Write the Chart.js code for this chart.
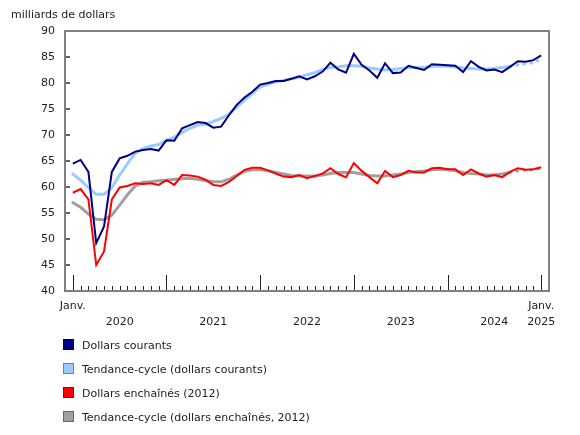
<!DOCTYPE html>
<html lang="fr">
<head>
<meta charset="utf-8">
<script src="https://cdn.jsdelivr.net/npm/chart.js@4/dist/chart.umd.min.js"></script>
<style>
  body { margin: 0; background: #fff; font-family: "DejaVu Sans", Verdana, sans-serif; }
  #zone { position: relative; width: 580px; height: 435px; }
  #legende { position: absolute; left: 63px; top: 339px; font-size: 11px; color: #222; }
  .item { height: 24px; display: flex; align-items: flex-start; }
  .boite { width: 11px; height: 11px; margin-right: 8px; box-sizing: border-box; border: 1px solid rgba(0,0,0,0.35); }
</style>
</head>
<body>
<div id="zone">
  <canvas id="grafico" width="580" height="435"></canvas>
  <div id="legende"></div>
</div>
<script>
// Mois de janvier 2020 à janvier 2025
const annees = ['2020', '2021', '2022', '2023', '2024', '2025'];
const mois = [];
for (let i = 0; i <= 60; i++) mois.push(i);

const dollarsCourants = [
  64.5, 65.2, 62.9, 49.2, 52.4, 62.9, 65.5, 66.0, 66.8, 67.1, 67.3, 67.0,
  69.0, 68.9, 71.3, 71.9, 72.5, 72.3, 71.4, 71.6, 73.8, 75.8, 77.2, 78.3,
  79.7, 80.0, 80.4, 80.4, 80.8, 81.3, 80.7, 81.3, 82.2, 83.9, 82.6, 82.0,
  85.6, 83.5, 82.4, 81.0, 83.8, 81.9, 82.0, 83.3, 82.9, 82.5,
  83.6, 83.5, 83.4, 83.3, 82.1, 84.2, 83.1, 82.4, 82.6, 82.1, 83.1, 84.2,
  84.1, 84.4, 85.3
];
const tendanceCourants = [
  62.5, 61.3, 59.9, 58.6, 58.6, 59.9, 62.3, 64.5, 66.5, 67.4, 67.9, 68.2,
  68.9, 69.6, 70.5, 71.3, 71.9, 72.1, 72.6, 73.2, 74.0, 75.4, 76.7, 78.0,
  79.2, 79.8, 80.2, 80.5, 80.8, 81.1, 81.6, 82.0, 82.6, 83.0, 83.1, 83.3,
  83.3, 83.2, 82.9, 82.7, 82.5, 82.6, 82.8, 83.0, 83.0, 83.0,
  83.2, 83.2, 83.2, 83.1, 82.9, 82.8, 82.7, 82.7, 82.8, 83.0, 83.2, 83.5,
  83.7, 83.9, 84.6
];
const dollarsEnchaines = [
  58.9, 59.6, 57.6, 45.0, 47.6, 57.6, 59.9, 60.2, 60.7, 60.6, 60.7, 60.4,
  61.3, 60.4, 62.3, 62.2, 62.0, 61.4, 60.4, 60.2, 61.0, 62.1, 63.3, 63.7,
  63.7, 63.2, 62.6, 62.0, 61.9, 62.3, 61.7, 62.1, 62.6, 63.6, 62.5, 61.9,
  64.6, 63.1, 61.9, 60.7, 63.1, 61.9, 62.3, 63.1, 62.8, 62.8,
  63.6, 63.7, 63.4, 63.4, 62.3, 63.4, 62.6, 62.0, 62.3, 61.9, 62.9, 63.6,
  63.3, 63.4, 63.8
];
const tendanceEnchaines = [
  57.0, 56.1, 54.8, 53.8, 53.7, 54.6, 56.5, 58.5, 60.2, 60.9, 61.0, 61.2,
  61.3, 61.5, 61.6, 61.7, 61.5, 61.2, 61.0, 61.0, 61.5, 62.3, 63.0, 63.3,
  63.3, 63.1, 62.8, 62.5, 62.2, 62.1, 62.1, 62.1, 62.3, 62.6, 62.8, 62.8,
  62.8, 62.5, 62.2, 62.1, 62.1, 62.3, 62.5, 62.8, 63.0, 63.1,
  63.3, 63.4, 63.3, 63.1, 62.8, 62.6, 62.5, 62.3, 62.3, 62.5, 62.8, 63.1,
  63.3, 63.3, 63.6
];

const nomsSeries = [
  'Dollars courants',
  'Tendance-cycle (dollars courants)',
  'Dollars enchaînés (2012)',
  'Tendance-cycle (dollars enchaînés, 2012)'
];
const couleurs = ['#000080', '#99ccff', '#ff0000', '#a0a0a0'];
const debutProvisoire = 56; // tendance-cycle en pointillé à la fin

function points(valeurs) {
  return mois.map((m, i) => ({ x: m, y: valeurs[i] }));
}

const pointille = ctx => ctx.p0DataIndex >= debutProvisoire ? [1, 6] : undefined;

// Cadre et petites marques des axes
const cadre = {
  id: 'cadre',
  afterDraw(chart) {
    const c = chart.ctx;
    const a = chart.chartArea;
    const sx = chart.scales.x;
    const sy = chart.scales.y;
    c.save();
    c.strokeStyle = '#222';
    c.lineWidth = 1;
    mois.forEach(m => {
      const x = Math.round(sx.getPixelForValue(m)) + 0.5;
      const h = m % 12 === 0 ? 16 : 5;
      c.beginPath();
      c.moveTo(x, a.bottom);
      c.lineTo(x, a.bottom - h);
      c.stroke();
    });
    c.strokeStyle = '#666';
    c.lineWidth = 2;
    for (let v = 40; v <= 90; v += 5) {
      const y = Math.round(sy.getPixelForValue(v));
      c.beginPath();
      c.moveTo(a.left, y);
      c.lineTo(a.left + 5, y);
      c.stroke();
    }
    c.strokeStyle = '#7f7f7f';
    c.lineWidth = 2;
    c.strokeRect(a.left, a.top, a.right - a.left, a.bottom - a.top);
    c.fillStyle = '#222';
    c.font = '11px "DejaVu Sans"';
    c.textBaseline = 'alphabetic';
    c.fillText('milliards de dollars', 11, 18);
    c.restore();
  }
};

const ctx = document.getElementById('grafico').getContext('2d');
const grafico = new Chart(ctx, {
  type: 'line',
  data: {
    datasets: [
      { label: nomsSeries[0], data: points(dollarsCourants), borderColor: couleurs[0], borderWidth: 2 },
      { label: nomsSeries[1], data: points(tendanceCourants), borderColor: couleurs[1], borderWidth: 3,
        segment: { borderDash: pointille }, borderCapStyle: 'round' },
      { label: nomsSeries[2], data: points(dollarsEnchaines), borderColor: couleurs[2], borderWidth: 2 },
      { label: nomsSeries[3], data: points(tendanceEnchaines), borderColor: couleurs[3], borderWidth: 3,
        segment: { borderDash: pointille }, borderCapStyle: 'round' }
    ]
  },
  options: {
    responsive: false,
    animation: false,
    elements: { point: { radius: 0 }, line: { tension: 0 } },
    layout: { padding: { left: 0, top: 31, right: 31, bottom: 100 } },
    plugins: { legend: { display: false }, tooltip: { enabled: false } },
    scales: {
      x: {
        type: 'linear',
        min: -1,
        max: 61,
        grid: { display: false, drawTicks: false },
        border: { display: false },
        afterBuildTicks: scale => {
          scale.ticks = [0, 6, 18, 30, 42, 54, 60].map(v => ({ value: v }));
        },
        afterFit: scale => { scale.height = 44; },
        ticks: {
          autoSkip: false,
          maxRotation: 0,
          padding: 7,
          color: '#222',
          font: { family: 'DejaVu Sans', size: 11, lineHeight: 1.45 },
          callback: v => {
            if (v === 0) return ['Janv.', ''];
            if (v === 60) return ['Janv.', annees[5]];
            return ['', annees[(v - 6) / 12]];
          }
        }
      },
      y: {
        min: 40,
        max: 90,
        grid: { display: false, drawTicks: false },
        border: { display: false },
        afterFit: scale => { scale.width = 65; },
        ticks: {
          stepSize: 5,
          padding: 10,
          color: '#222',
          font: { family: 'DejaVu Sans', size: 11 }
        }
      }
    }
  },
  plugins: [cadre]
});

// Légende verticale sous le graphique
const legende = document.getElementById('legende');
nomsSeries.forEach((nom, i) => {
  const item = document.createElement('div');
  item.className = 'item';
  item.innerHTML = '<span class="boite" style="background:' + couleurs[i] + '"></span><span>' + nom + '</span>';
  legende.appendChild(item);
});
</script>
</body>
</html>
